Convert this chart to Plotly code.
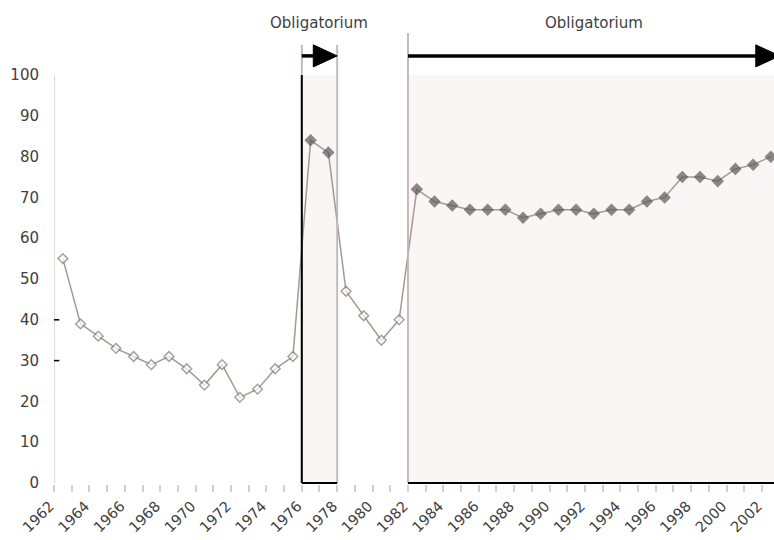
import plotly.graph_objects as go

years = list(range(1962, 2003))
turnout = [55, 39, 36, 33, 31, 29, 31, 28, 24, 29, 21, 23, 28, 31,
           84, 81,
           47, 41, 35, 40,
           72, 69, 68, 67, 67, 67, 65, 66, 67, 67, 66, 67, 67, 69, 70, 75, 75, 74, 77, 78, 80]
# compulsory-voting periods (first year, last year)
obligatory_periods = [(1976, 1977), (1982, 2002)]
period_label = "Obligatorium"
ytick_vals = list(range(0, 101, 10))
xtick_years = list(range(1962, 2003, 2))

def is_oblig(y):
    return any(a <= y <= b for a, b in obligatory_periods)

FILLED = "#605854"
OUTLINE = "#857c77"
LINE = "#a39a95"
SHADE = "#f9f6f5"
GREYLINE = "#bfb5b1"
TXT = "#404040"

marker_fill = [FILLED if is_oblig(y) else "white" for y in years]
marker_line = [FILLED if is_oblig(y) else OUTLINE for y in years]
marker_size = [8 if is_oblig(y) else 7.5 for y in years]

fig = go.Figure()
fig.add_trace(go.Scatter(
    x=years, y=turnout, mode="lines+markers",
    line=dict(color=LINE, width=1.5),
    marker=dict(symbol="diamond", size=marker_size, color=marker_fill,
                line=dict(color=marker_line, width=1.5)),
    showlegend=False, hoverinfo="x+y"))

YMAX_AX = 100
ARROW_Y = 104.7
HEAD_H = 2.7
HEAD_L = 1.35
TOP1 = 107.4
TOP2 = 110.3
TEXT_Y = 112.8
XMAX = 2002.18

shapes = []
# y axis line
shapes.append(dict(type="line", xref="x", yref="y", x0=1961.5, x1=1961.5, y0=0, y1=YMAX_AX,
                   line=dict(color="#d8d0cc", width=1.5), layer="below"))
# short dashes at 30 and 40
for v in (30, 40):
    shapes.append(dict(type="line", xref="x", yref="y", x0=1961.12, x1=1961.8, y0=v, y1=v,
                       line=dict(color="black", width=1.5)))

annotations = []
text_x = [1976.5, 1992.0]
for i, (a, b) in enumerate(obligatory_periods):
    x0, x1 = a - 0.5, b + 0.5
    shapes.append(dict(type="rect", xref="x", yref="y", x0=x0, x1=x1, y0=0, y1=YMAX_AX,
                       fillcolor=SHADE, line=dict(width=0), layer="below"))
    top = TOP1 if i == 0 else TOP2
    shapes.append(dict(type="line", xref="x", yref="y", x0=x0, x1=x0, y0=0, y1=top,
                       line=dict(color=GREYLINE, width=1.8)))
    if i == 0:
        shapes.append(dict(type="line", xref="x", yref="y", x0=x1, x1=x1, y0=0, y1=top,
                           line=dict(color=GREYLINE, width=1.8)))
        shapes.append(dict(type="line", xref="x", yref="y", x0=x0, x1=x0, y0=0, y1=YMAX_AX,
                           line=dict(color="black", width=2)))
    shapes.append(dict(type="line", xref="x", yref="y", x0=x0, x1=x1, y0=0, y1=0,
                       line=dict(color="black", width=2)))
    shapes.append(dict(type="line", xref="x", yref="y", x0=x0, x1=x1 - HEAD_L * 0.6, y0=ARROW_Y, y1=ARROW_Y,
                       line=dict(color="black", width=3.5)))
    hx = x1 - HEAD_L
    shapes.append(dict(type="path", xref="x", yref="y",
                       path=f"M {hx},{ARROW_Y - HEAD_H} L {x1},{ARROW_Y} L {hx},{ARROW_Y + HEAD_H} Z",
                       fillcolor="black", line=dict(color="black", width=1)))
    annotations.append(dict(x=text_x[i], y=TEXT_Y, xref="x", yref="y", text=period_label,
                            showarrow=False, font=dict(size=15, color=TXT, family="DejaVu Sans"),
                            xanchor="center", yanchor="middle"))

fig.update_layout(
    width=774, height=540,
    margin=dict(l=54, r=0, t=0, b=56),
    paper_bgcolor="white", plot_bgcolor="white",
    font=dict(family="DejaVu Sans", size=15, color=TXT),
    shapes=shapes, annotations=annotations,
    xaxis=dict(range=[1961.5, XMAX], tickmode="array",
               tickvals=xtick_years,
               ticktext=[str(y) for y in xtick_years], tickangle=-45,
               ticklabelshift=-13, ticklabelstandoff=0,
               ticks="outside", ticklen=7, tickcolor="rgba(0,0,0,0)",
               minor=dict(ticks="outside", ticklen=7, tickcolor="#d6cfcb", tickwidth=1.5,
                          tick0=1961.5, dtick=1, showgrid=False),
               showgrid=False, zeroline=False, showline=False, automargin=False,
               tickfont=dict(size=14.5, color=TXT)),
    yaxis=dict(range=[-0.25, 118.4], tickmode="array", tickvals=ytick_vals,
               ticks="outside", ticklen=11, tickcolor="rgba(0,0,0,0)",
               showgrid=False, zeroline=False, showline=False, automargin=False,
               tickfont=dict(size=15, color=TXT)),
)

fig.write_html("out.html", config={"displayModeBar": False},
               post_script="document.body.style.margin='0';")
